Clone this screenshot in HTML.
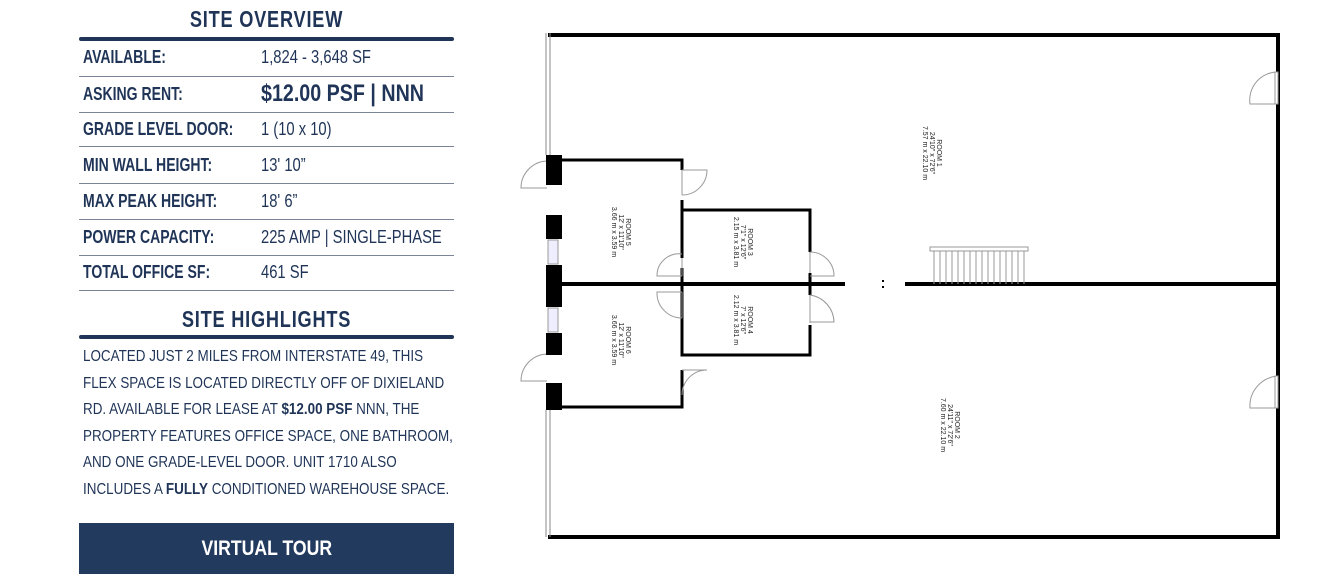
<!DOCTYPE html>
<html><head><meta charset="utf-8"><style>
body{margin:0;width:1340px;height:586px;background:#fff;position:relative;overflow:hidden;font-family:"Liberation Sans",sans-serif;color:#1f3457}
.a{position:absolute;white-space:nowrap}
.h{font-weight:bold;font-size:23px;left:79px;width:375px;text-align:center;letter-spacing:1px;transform:scaleX(0.79)}
.tl{position:absolute;left:79px;width:375px;height:4px;background:#1f3457;border-radius:2px}
.l{position:absolute;left:79px;width:375px;height:1px;background:#7a8496}
.k{left:83px;font-weight:bold;font-size:18px;transform:scaleX(0.78);transform-origin:0 0}
.v{left:261px;font-size:18px;transform:scaleX(0.82);transform-origin:0 0}
.p{left:83px;font-size:16px;line-height:26.5px;top:344px;transform:scaleX(0.84);transform-origin:0 0}
.btn{position:absolute;left:79px;top:523px;width:375px;height:51px;background:#223a5e;color:#fff;font-weight:bold;font-size:21px;text-align:center;line-height:51px}
.btn span{display:inline-block;transform:scaleX(0.84)}
</style></head><body>
<div class="a h" style="top:6px">SITE OVERVIEW</div>
<div class="tl" style="top:37px"></div>
<div class="a k" style="top:47px">AVAILABLE:</div><div class="a v" style="top:47px">1,824 - 3,648 SF</div>
<div class="l" style="top:76px"></div>
<div class="a k" style="top:84px">ASKING RENT:</div><div class="a v" style="top:80px;font-size:24px;font-weight:bold">$12.00 PSF | NNN</div>
<div class="l" style="top:112px"></div>
<div class="a k" style="top:119px">GRADE LEVEL DOOR:</div><div class="a v" style="top:119px">1 (10 x 10)</div>
<div class="l" style="top:146px"></div>
<div class="a k" style="top:155px">MIN WALL HEIGHT:</div><div class="a v" style="top:155px">13' 10”</div>
<div class="l" style="top:183px"></div>
<div class="a k" style="top:191px">MAX PEAK HEIGHT:</div><div class="a v" style="top:191px">18' 6”</div>
<div class="l" style="top:219px"></div>
<div class="a k" style="top:227px">POWER CAPACITY:</div><div class="a v" style="top:227px">225 AMP | SINGLE-PHASE</div>
<div class="l" style="top:255px"></div>
<div class="a k" style="top:262px">TOTAL OFFICE SF:</div><div class="a v" style="top:262px">461 SF</div>
<div class="l" style="top:290px"></div>
<div class="a h" style="top:306px">SITE HIGHLIGHTS</div>
<div class="tl" style="top:335px"></div>
<div class="a p">LOCATED JUST 2 MILES FROM INTERSTATE 49, THIS<br>FLEX SPACE IS LOCATED DIRECTLY OFF OF DIXIELAND<br>RD. AVAILABLE FOR LEASE AT <b>$12.00 PSF</b> NNN, THE<br>PROPERTY FEATURES OFFICE SPACE, ONE BATHROOM,<br>AND ONE GRADE-LEVEL DOOR. UNIT 1710 ALSO<br>INCLUDES A <b>FULLY</b> CONDITIONED WAREHOUSE SPACE.</div>
<div class="btn"><span>VIRTUAL TOUR</span></div>

<svg class="a" style="left:0;top:0" width="1340" height="586" viewBox="0 0 1340 586">
<g fill="none" stroke="#000">
<path d="M548 35 H1278 V537 H548" stroke-width="4"/>
<line x1="546" y1="33" x2="546" y2="155" stroke-width="1" stroke="#888"/>
<line x1="550" y1="33" x2="550" y2="155" stroke-width="1" stroke="#888"/>
<line x1="546" y1="410" x2="546" y2="537" stroke-width="1" stroke="#888"/>
<line x1="550" y1="410" x2="550" y2="537" stroke-width="1" stroke="#888"/>
<line x1="548" y1="284" x2="845" y2="284" stroke-width="4"/>
<line x1="905" y1="284" x2="1278" y2="284" stroke-width="4"/>
<path d="M560 160 H682 V170" stroke-width="3"/>
<path d="M682 200 V258" stroke-width="3"/>
<path d="M682 210 H810 V252" stroke-width="3"/>
<path d="M810 273 V295" stroke-width="3"/>
<path d="M810 325 V355 H682 V290" stroke-width="3"/>
<path d="M682 370 V407 H560" stroke-width="3"/>
<line x1="682" y1="268" x2="682" y2="300" stroke-width="3"/>
<g stroke="#999" stroke-width="1">
<path d="M682 170 V195 M682 170 H707 A25 25 0 0 1 682 195"/>
<path d="M682 258 V276 M682 276 H657 A22 22 0 0 1 682 254"/>
<path d="M682 292 V318 M682 292 H657 A25 25 0 0 0 682 318"/>
<path d="M682 370 H707 A25 25 0 0 0 682 395"/>
<path d="M810 252 V273 M810 276 H834 A24 24 0 0 0 810 252"/>
<path d="M810 295 V323 M810 295 A28 28 0 0 1 834 322 H810"/>
<path d="M547 188 H521 A27 27 0 0 1 547 161"/>
<path d="M547 354 A27 27 0 0 0 521 381 H547"/>
<path d="M1278 104 H1250 A28 28 0 0 1 1278 72"/>
<path d="M1278 408 H1250 A30 30 0 0 1 1278 376"/>
<rect x="1275" y="72" width="3" height="32" fill="#fff"/>
<rect x="1275" y="376" width="3" height="32" fill="#fff"/>
<rect x="548" y="240" width="10" height="24" fill="#eef"/>
<rect x="548" y="308" width="10" height="24" fill="#eef"/>
<rect x="930" y="247" width="98" height="4"/>
<path d="M934 251V284M940 251V284M946 251V284M952 251V284M958 251V284M964 251V284M970 251V284M976 251V284M982 251V284M988 251V284M994 251V284M1000 251V284M1006 251V284M1012 251V284M1018 251V284M1024 251V284"/>
</g>
</g>
<g fill="#000">
<rect x="546" y="155" width="16" height="30"/>
<rect x="546" y="215" width="16" height="24"/>
<rect x="546" y="265" width="16" height="42"/>
<rect x="546" y="333" width="16" height="22"/>
<rect x="546" y="383" width="16" height="27"/>
<rect x="882" y="280" width="2" height="2"/><rect x="882" y="286" width="2" height="2"/>
</g>
<g font-family="Liberation Sans,sans-serif" font-size="7" fill="#222" text-anchor="middle">
<text transform="translate(937,153) rotate(90)"><tspan x="0" y="0">ROOM 1</tspan><tspan x="0" y="7">24'10" x 72'6"</tspan><tspan x="0" y="14">7.57 m x 22.10 m</tspan></text>
<text transform="translate(955,425) rotate(90)"><tspan x="0" y="0">ROOM 2</tspan><tspan x="0" y="7">24'11" x 72'6"</tspan><tspan x="0" y="14">7.60 m x 22.10 m</tspan></text>
<text transform="translate(626,232) rotate(90)"><tspan x="0" y="0">ROOM 5</tspan><tspan x="0" y="7">12' x 11'10"</tspan><tspan x="0" y="14">3.66 m x 3.59 m</tspan></text>
<text transform="translate(626,340) rotate(90)"><tspan x="0" y="0">ROOM 6</tspan><tspan x="0" y="7">12' x 11'10"</tspan><tspan x="0" y="14">3.66 m x 3.59 m</tspan></text>
<text transform="translate(748,242) rotate(90)"><tspan x="0" y="0">ROOM 3</tspan><tspan x="0" y="7">7'1" x 12'6"</tspan><tspan x="0" y="14">2.15 m x 3.81 m</tspan></text>
<text transform="translate(748,320) rotate(90)"><tspan x="0" y="0">ROOM 4</tspan><tspan x="0" y="7">7' x 12'6"</tspan><tspan x="0" y="14">2.12 m x 3.81 m</tspan></text>
</g>
</svg>
</body></html>
